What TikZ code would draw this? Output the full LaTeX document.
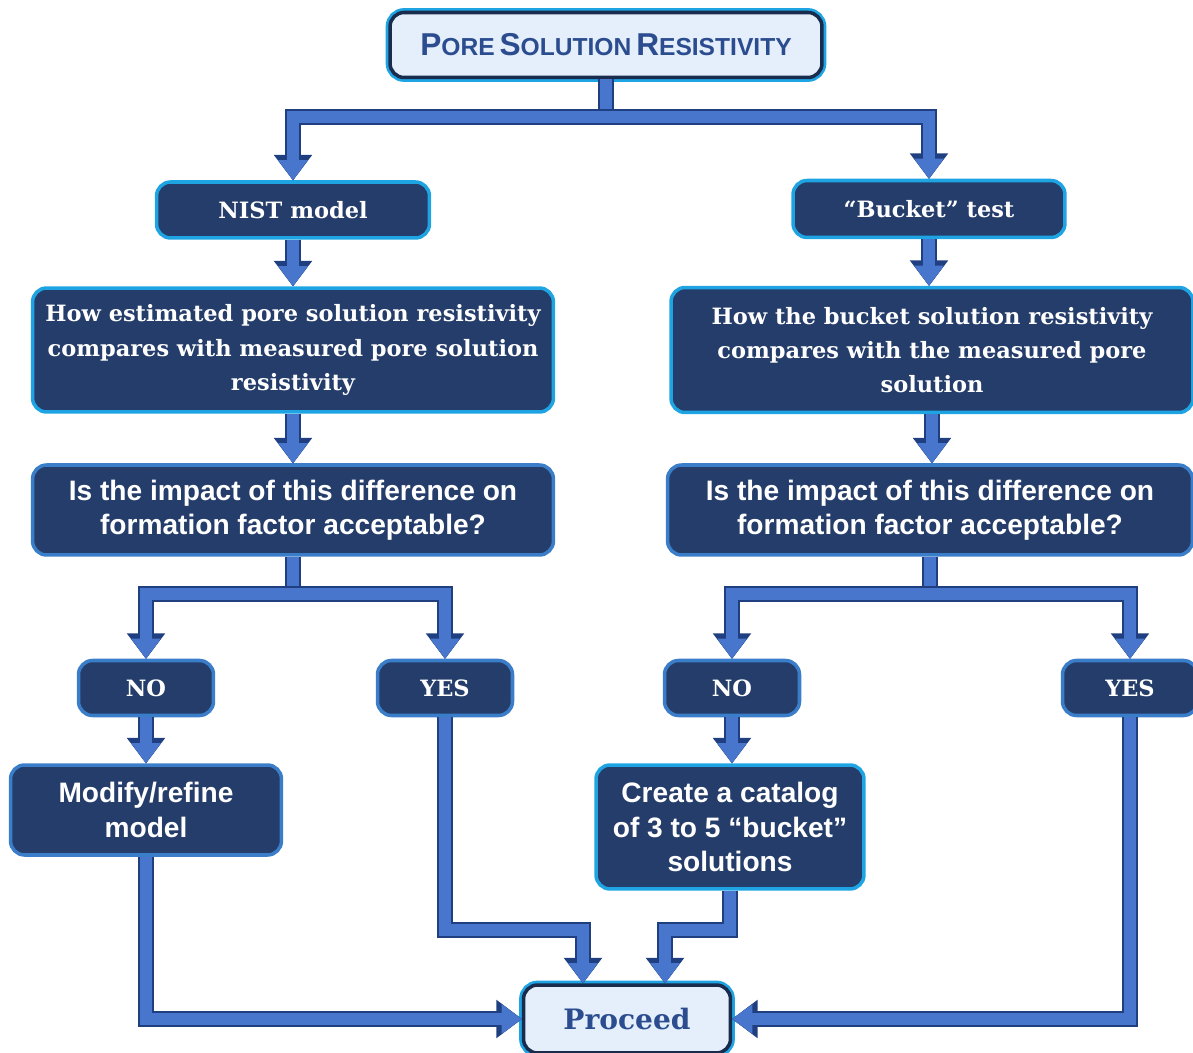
\documentclass[tikz,border=0pt]{standalone}
\usepackage{fontspec}
\setmainfont{Liberation Sans}
\newfontfamily\boxserif{DejaVu Serif}
\usetikzlibrary{arrows.meta,positioning}

\definecolor{boxfill}{RGB}{37,61,106}
\definecolor{cyanedge}{RGB}{30,164,226}
\definecolor{blueedge}{RGB}{58,125,200}
\definecolor{titlefill}{RGB}{229,238,251}
\definecolor{titleedge}{RGB}{26,44,78}
\definecolor{titletext}{RGB}{43,77,143}
\definecolor{pipelight}{RGB}{72,118,204}
\definecolor{pipedark}{RGB}{31,63,128}

% fake small caps for the title
\newcommand{\capword}[2]{{\fontsize{18}{20}\selectfont #1}{\fontsize{14}{16}\selectfont #2}}

\begin{document}
\begin{tikzpicture}[
  x=0.02cm, y=-0.02cm,
  box/.style={
    rectangle,
    rounded corners=8pt,
    fill=boxfill,
    draw=cyanedge,
    line width=2pt,
    text=white,
    align=center,
    inner sep=2pt,
    font=\bfseries\fontsize{16}{19.6}\selectfont
  },
  qbox/.style={box, draw=blueedge},
  serifbox/.style={box, font=\boxserif\bfseries\fontsize{12.8}{19.4}\selectfont},
  lightbox/.style={
    rectangle,
    rounded corners=8pt,
    fill=titlefill,
    draw=titleedge,
    line width=2pt,
    text=titletext,
    preaction={draw=cyanedge, line width=5pt}
  },
  pipebar/.style={
    line width=6.5pt,
    draw=pipelight,
    line join=miter,
    preaction={draw=pipedark, line width=9pt}
  },
  pipe/.style={
    pipebar,
    -{Triangle[width=17pt,length=11.5pt,line width=0pt]},
    preaction={draw=pipedark, line width=9pt, -{Triangle[width=22pt,length=14.5pt,line width=0pt]}}
  }
]
\useasboundingbox (0,0) rectangle (1193,1053);

% boxes
\node[lightbox, minimum width=8.64cm, minimum height=1.30cm, font=\bfseries] (title) at (606,45)
  {\capword{P}{ORE} \capword{S}{OLUTION} \capword{R}{ESISTIVITY}};

\node[serifbox, minimum width=5.46cm, minimum height=1.12cm] (nist) at (293,210) {NIST model};
\node[serifbox, minimum width=5.44cm, minimum height=1.14cm] (bucket) at (929,209) {“Bucket” test};

\node[serifbox, minimum width=10.42cm, minimum height=2.48cm] (howL) at (293,350)
  {How estimated pore solution resistivity\\compares with measured pore solution\\resistivity};
\node[serifbox, minimum width=10.44cm, minimum height=2.50cm] (howR) at (932,350)
  {How the bucket solution resistivity\\compares with the measured pore\\solution};

\node[qbox, minimum width=10.42cm, minimum height=1.80cm] (impL) at (293,510)
  {Is the impact of this difference on\\formation factor acceptable?};
\node[qbox, minimum width=10.50cm, minimum height=1.80cm] (impR) at (930,510)
  {Is the impact of this difference on\\formation factor acceptable?};

\node[serifbox, draw=blueedge, minimum width=2.70cm, minimum height=1.10cm] (noL) at (146,688) {NO};
\node[serifbox, draw=blueedge, minimum width=2.70cm, minimum height=1.10cm] (yesL) at (445,688) {YES};
\node[serifbox, draw=blueedge, minimum width=2.70cm, minimum height=1.10cm] (noR) at (732,688) {NO};
\node[serifbox, draw=blueedge, minimum width=2.70cm, minimum height=1.10cm] (yesR) at (1130,688) {YES};

\node[qbox, minimum width=5.42cm, minimum height=1.80cm] (modify) at (146,810) {Modify/refine\\model};
\node[box, minimum width=5.36cm, minimum height=2.48cm] (create) at (730,827)
  {Create a catalog\\of 3 to 5 “bucket”\\solutions};

\node[lightbox, minimum width=4.14cm, minimum height=1.36cm, font=\boxserif\bfseries\fontsize{16}{18}\selectfont] (proceed) at (627,1019) {Proceed};

% split points and bends
\coordinate (split1) at (606,117);
\coordinate (split2) at (293,594);
\coordinate (split3) at (930,594);
\coordinate (inL) at (583,930);
\coordinate (inR) at (665,930);

% connectors
\draw[pipebar] (title.south) -- (split1);
\draw[pipe] (split1) -| (nist.north);
\draw[pipe] (split1) -| (bucket.north);

\draw[pipe] (nist.south) -- (howL.north -| nist.south);
\draw[pipe] (bucket.south) -- (howR.north -| bucket.south);
\draw[pipe] (howL.south) -- (impL.north);
\draw[pipe] (howR.south) -- (impR.north -| howR.south);

\draw[pipebar] (impL.south) -- (split2);
\draw[pipe] (split2) -| (noL.north);
\draw[pipe] (split2) -| (yesL.north);
\draw[pipebar] (impR.south) -- (split3);
\draw[pipe] (split3) -| (noR.north);
\draw[pipe] (split3) -| (yesR.north);

\draw[pipe] (noL.south) -- (modify.north);
\draw[pipe] (noR.south) -- (create.north -| noR.south);

\draw[pipe] (modify.south) |- (proceed.west);
\draw[pipe] (yesL.south) |- (inL) -- (inL |- proceed.north);
\draw[pipe] (create.south) |- (inR) -- (inR |- proceed.north);
\draw[pipe] (yesR.south) |- (proceed.east);
\end{tikzpicture}
\end{document}
